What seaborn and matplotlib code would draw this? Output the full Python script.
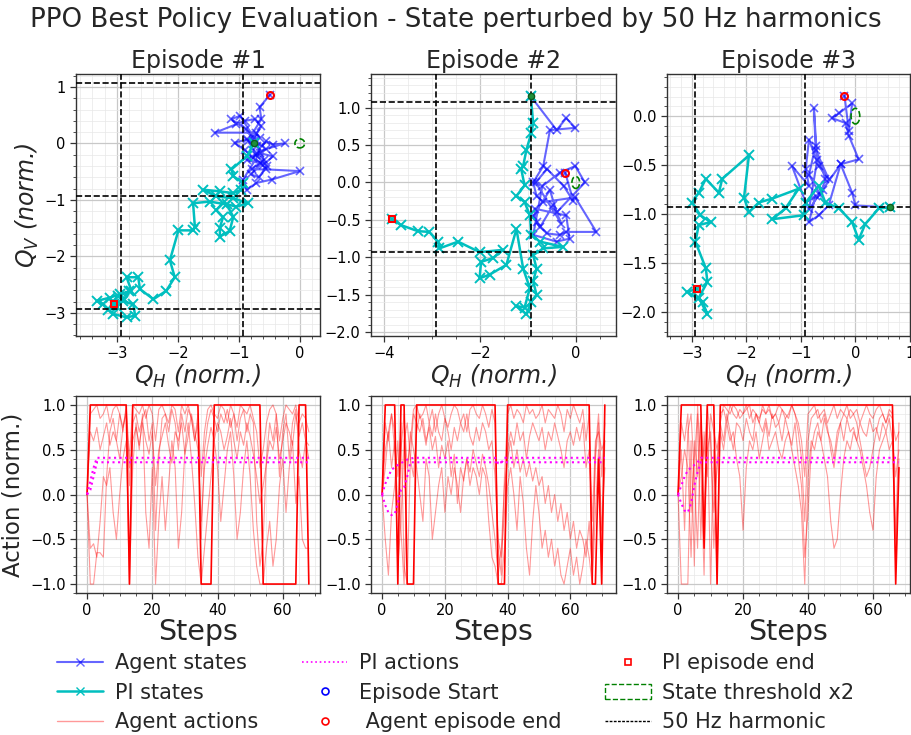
import matplotlib
matplotlib.use("Agg")
import numpy as np
import pandas as pd
import seaborn as sns
import matplotlib.pyplot as plt
from matplotlib.lines import Line2D
from matplotlib.patches import Patch, Circle

# ---------------- data ----------------
title = "PPO Best Policy Evaluation - State perturbed by 50 Hz harmonics"
episode_titles = ["Episode #1", "Episode #2", "Episode #3"]
harmonics = [-2.93, -0.93, 1.07]
threshold_radius = 0.08

ep1_agent_qh = [-0.75, -0.62, -0.55, -0.44, -0.25, -0.55, -0.70, -0.87, -0.66, -0.79,
                -0.55, 0.00, -0.46, -0.71, -0.87, -0.93, -0.66, -0.44, -0.60, -0.77,
                -0.90, -1.07, -0.87, -0.66, -0.72, -1.39, -1.04, -0.90, -0.74, -0.63,
                -0.75, -0.98, -1.12, -0.88, -0.70, -0.58, -0.80, -0.67, -0.54, -0.72,
                -0.85, -0.63, -0.66, -0.49]
ep1_agent_qv = [0.00, -0.05, 0.04, -0.02, 0.00, -0.10, -0.17, -0.29, -0.35, -0.46,
                -0.46, -0.49, -0.64, -0.70, -0.82, -0.64, -0.17, -0.23, -0.38, -0.25,
                -0.12, 0.01, 0.07, 0.10, 0.19, 0.19, 0.34, 0.40, 0.43, 0.30,
                0.10, 0.49, 0.43, 0.25, -0.05, -0.30, -0.55, -0.60, -0.40, -0.20,
                0.05, 0.43, 0.64, 0.86]
ep1_pi_qh = [-0.75, -0.87, -1.12, -1.09, -0.93, -0.96, -1.09, -1.31, -1.58, -1.37,
             -1.09, -0.85, -1.04, -1.26, -1.37, -1.26, -1.31, -1.31, -1.15, -1.09,
             -1.20, -1.48, -1.75, -1.72, -1.75, -1.99, -2.13, -2.05, -2.19, -2.40,
             -2.62, -2.65, -2.84, -2.76, -2.95, -3.11, -3.33, -3.22, -3.06, -2.84,
             -2.70, -2.73, -2.90, -2.80, -2.98, -3.15, -3.00, -2.88, -3.05]
ep1_pi_qv = [0.00, -0.23, -0.46, -0.58, -0.70, -0.82, -0.88, -0.85, -0.82, -0.94,
             -0.97, -1.06, -1.12, -1.06, -1.18, -1.31, -1.49, -1.65, -1.55, -1.30,
             -1.08, -1.03, -1.06, -1.48, -1.54, -1.54, -2.07, -2.37, -2.61, -2.76,
             -2.58, -2.37, -2.37, -2.61, -2.67, -2.73, -2.79, -2.85, -3.02, -3.08,
             -3.05, -2.85, -2.79, -2.62, -2.70, -2.95, -2.90, -2.75, -2.85]

ep2_agent_qh = [-0.94, -0.40, -0.20, -0.01, -0.54, -0.68, -0.89, -0.82, -0.68, -0.01,
                0.43, -0.20, -0.34, -0.61, -0.82, -0.86, -0.20, -0.13, -0.40, -0.89,
                -0.70, -0.34, -0.01, 0.19, -0.40, -0.54, -0.89, -0.75, -0.47, -0.30,
                -0.84, -0.60, -0.25, -0.05, -0.22]
ep2_agent_qv = [1.15, 0.70, 0.86, 0.73, 0.70, 0.22, 0.00, -0.18, -0.26, -0.20,
                -0.66, -0.66, -0.70, -0.68, -0.53, -0.35, -0.44, -0.75, -0.79, -0.70,
                -0.05, 0.13, 0.22, 0.00, -0.40, -0.10, -0.45, -0.60, -0.30, -0.55,
                0.00, 0.18, -0.05, -0.25, 0.13]
ep2_pi_qh = [-0.94, -0.89, -0.93, -1.03, -1.10, -1.14, -1.07, -1.24, -1.07, -0.96,
             -0.93, -0.75, -0.27, -0.68, -0.89, -0.82, -0.89, -0.82, -0.93, -1.03,
             -1.24, -1.07, -0.96, -1.10, -1.24, -1.45, -1.80, -2.01, -1.98, -1.73,
             -1.52, -2.01, -2.46, -2.85, -2.88, -3.06, -3.30, -3.65, -3.85]
ep2_pi_qv = [1.15, 0.79, 0.66, 0.44, 0.22, 0.18, -0.04, -0.18, -0.26, -0.44,
             -0.70, -0.79, -0.86, -0.88, -0.97, -1.15, -1.32, -1.50, -1.59, -1.76,
             -1.65, -1.67, -1.41, -1.15, -0.62, -1.10, -1.23, -1.28, -1.06, -1.01,
             -0.90, -0.93, -0.79, -0.88, -0.79, -0.66, -0.65, -0.57, -0.49]

ep3_agent_qh = [0.64, 0.00, -0.06, -0.27, -0.49, -0.67, -0.85, -0.73, -0.91, -1.16,
                -0.85, -0.91, -0.85, -0.67, -0.49, -0.73, -0.55, -0.64, -0.85, -0.73,
                -0.76, -0.70, -0.85, -0.60, -0.27, 0.06, -0.12, -0.18, -0.43, -0.30,
                -0.06, -0.12, -0.20]
ep3_agent_qv = [-0.93, -0.91, -0.78, -0.49, -0.91, -1.01, -1.08, -0.81, -0.88, -0.51,
                -0.71, -0.54, -0.24, -0.51, -0.64, -0.34, -0.64, -0.80, -0.60, -0.30,
                0.08, -0.45, -0.95, -0.75, -0.49, -0.44, -0.20, -0.07, -0.02, 0.03,
                0.13, -0.15, 0.21]
ep3_pi_qh = [0.64, 0.43, 0.18, 0.06, -0.06, -0.30, -0.55, -0.67, -0.91, -0.95,
             -1.52, -1.28, -1.04, -1.52, -1.77, -1.95, -2.04, -1.95, -2.44, -2.50,
             -2.74, -2.87, -2.99, -2.84, -2.65, -2.87, -2.93, -2.74, -2.71, -2.87,
             -2.71, -2.80, -3.08, -2.91]
ep3_pi_qv = [-0.93, -0.94, -1.10, -1.26, -1.08, -0.94, -0.88, -0.71, -0.88, -1.01,
             -1.05, -0.94, -0.74, -0.84, -0.88, -0.98, -0.83, -0.40, -0.64, -0.78,
             -0.64, -0.78, -0.88, -1.01, -1.08, -1.11, -1.28, -1.55, -1.69, -1.85,
             -2.02, -1.89, -1.79, -1.76]

# agent actions (one dominant series + fainter series) per episode
ep1_act_main = [0, 1, 1, 1, 1, 1, 1, 1, 1, 1,
                1, 1, 1, -1, 1, 1, 1, 1, 1, 1,
                1, 1, 1, 1, 1, 1, 1, 1, 1, 1,
                1, 1, 1, 1, 1, -1, -1, -1, -1, 1,
                1, 1, 1, 1, 1, 1, 1, 1, 1, 1,
                1, 1, 1, 1, -1, -1, -1, -1, -1, -1,
                -1, -1, -1, -1, -1, 1, 1, 1, -1]
ep1_act_a = [0, 0.9, 0.95, 1, 0.85, 0.9, 1, 0.8, 0.95, 1,
             0.9, 0.7, 1, 0.4, 1, 0.95, 0.9, 1, 0.85, 1,
             0.9, 0.6, 0.95, 1, 0.9, 0.8, 1, 0.95, 0.7, 1,
             0.9, 1, 0.85, 0.6, 0.9, 0.2, 0.7, 0.95, 1, 0.9,
             0.85, 1, 0.95, 0.8, 1, 0.9, 0.75, 1, 0.95, 0.9,
             1, 0.85, 0.7, 0.3, 0.5, 0.8, 0.95, 1, 0.9, 0.6,
             0.85, 1, 0.95, 0.9, 1, 0.8, 0.9, 0.85, 0.7]
ep1_act_b = [0, 0.7, 0.6, 0.75, 0.5, 0.65, 0.8, 0.55, 0.7, 0.6,
             0.4, 0.75, 0.9, 0.3, 0.6, 0.75, 0.55, 0.8, 0.6, 0.45,
             0.7, 0.1, 0.5, 0.65, 0.8, 0.55, 0.35, 0.7, 0.6, 0.8,
             0.45, 0.65, 0.9, 0.7, 0.5, -0.3, 0.3, 0.55, 0.75, 0.6,
             0.8, 0.7, 0.5, 0.65, 0.85, 0.6, 0.4, 0.7, 0.55, 0.8,
             0.65, 0.45, 0.2, -0.1, 0.1, 0.35, 0.6, 0.5, 0.75, 0.4,
             0.6, 0.8, 0.7, 0.55, 0.9, 0.65, 0.8, 0.6, 0.55]
ep1_act_c = [0, -0.6, -0.55, -0.7, -0.3, 0.2, 0.1, 0.3, -0.2, -0.5,
             0.0, 0.4, 0.6, -1.0, 0.3, 0.8, 0.5, 0.9, -0.2, -0.6,
             0.3, -1.0, -0.3, 0.2, -0.4, 0.1, 0.6, 0.3, -0.6, -0.2,
             0.5, 0.8, 0.4, -0.1, -0.7, -1.0, -0.6, -0.2, 0.2, 0.6,
             0.3, -0.3, 0.1, 0.5, 0.7, 0.2, -0.5, -0.2, 0.3, 0.6,
             0.2, -0.4, -0.8, -1.0, -1.0, -0.6, -0.3, -0.8, -0.5, 0.1,
             0.4, -0.2, 0.3, 0.6, -0.1, 0.2, -0.5, -0.6, -0.6]
ep1_act_d = [0, -1, -1, -0.65, -0.65, -0.7, 0.2, 0.7, 0.85, 0.6,
             0.9, 0.75, 0.95, 0.1, 0.8, 0.9, 0.7, 0.85, 0.95, 0.6,
             0.8, -0.4, 0.4, 0.85, 0.9, 0.7, 0.95, 0.8, 0.5, 0.9,
             0.7, 0.95, 0.85, 0.6, 0.8, -0.5, 0.5, 0.8, 0.95, 0.85,
             0.7, 0.9, 0.8, 0.95, 0.75, 0.9, 0.6, 0.85, 0.95, 0.7,
             0.9, 0.8, -0.3, -0.8, -0.5, 0.4, 0.8, 0.6, 0.9, 0.2,
             0.7, 0.9, 0.4, 0.8, 0.95, 0.5, 0.3, 0.6, 0.4]

ep2_act_main = [0, 1, 1, 1, 1, -1, 1, 1, -1, -1,
                -1, 1, 1, 1, 1, 1, 1, 1, 1, 1,
                1, 1, 1, 1, 1, 1, 1, 1, 1, 1,
                1, 1, 1, 1, 1, 1, 1, -1, -1, -1,
                1, 1, 1, 1, 1, 1, 1, 1, 1, 1,
                1, 1, 1, 1, 1, 1, 1, 1, 1, 1,
                1, 1, 1, 1, 1, 1, 1, -1, -1, 0.4,
                -1, 1]
ep2_act_a = [0, 0.8, 0.6, 0.9, 0.7, -0.2, 0.5, 0.9, 0.3, 0.6,
             0.95, 1, 0.85, 0.9, 1, 0.8, 0.95, 0.7, 0.9, 1,
             0.85, 0.75, 0.9, 1, 0.95, 0.8, 0.9, 0.7, 0.95, 1,
             0.9, 0.85, 1, 0.9, 0.75, 0.95, 0.8, -0.6, -0.9, 0.2,
             0.9, 1, 0.85, 0.95, 0.9, 0.8, 1, 0.9, 0.95, 0.85,
             0.9, 1, 0.8, 0.95, 0.9, 0.85, 1, 0.9, 0.7, 0.95,
             0.85, 1, 0.9, 0.8, 0.95, 0.6, 0.9, -0.8, 0.5, 0.9,
             0.2, 0.8]
ep2_act_b = [0, 0.5, 0.7, 0.3, 0.6, -0.8, -0.3, 0.6, 0.8, 0.4,
             0.2, 0.7, 0.9, 0.75, 0.55, 0.8, 0.65, 0.9, 0.7, 0.6,
             0.85, 0.7, 0.5, 0.75, 0.6, 0.8, 0.7, 0.9, 0.65, 0.55,
             0.75, 0.6, 0.8, 0.7, 0.5, 0.6, 0.2, -0.5, -0.7, -0.2,
             0.5, 0.7, 0.55, 0.8, 0.6, 0.7, 0.4, 0.65, 0.8, 0.7,
             0.6, 0.75, 0.5, 0.7, 0.6, 0.8, 0.65, 0.5, 0.3, 0.6,
             0.7, 0.55, 0.75, 0.6, 0.8, 0.3, 0.5, -0.3, 0.6, 0.7,
             0.5, 0.6]
ep2_act_c = [0, -0.5, -0.9, -0.2, 0.1, 0.6, -0.4, -1.0, 0.2, 0.7,
             0.5, 0.3, 0.0, -0.3, 0.4, 0.2, -0.5, -0.2, 0.1, 0.3,
             -0.2, 0.2, 0.0, 0.3, 0.1, -0.2, 0.2, 0.4, 0.1, 0.3,
             0.2, 0.0, 0.3, 0.2, -0.3, -0.7, -0.8, -1.0, -1.0, -0.6,
             0.1, 0.3, 0.0, -0.4, 0.2, -0.1, -0.6, -0.9, -0.3, 0.1,
             -0.2, -0.6, -0.4, -0.7, -0.5, -0.8, -0.6, -0.9, -1.0, -0.8,
             -0.6, -0.9, -0.7, -1.0, -0.8, -0.5, -0.7, -1.0, -0.2, 0.5,
             -0.4, 0.3]
ep2_act_d = [0, 0.3, 0.7, 0.9, 0.5, 0.2, 0.8, -0.8, -1.0, 0.4,
             0.9, 0.8, 0.7, 0.85, 0.6, 0.75, 0.5, 0.65, 0.3, 0.55,
             0.4, 0.6, 0.2, 0.45, -0.1, 0.3, 0.15, 0.4, 0.25, 0.5,
             0.35, 0.2, 0.45, 0.3, 0.1, -0.2, -0.5, -0.9, -0.6, 0.1,
             0.4, 0.6, 0.3, 0.5, 0.25, 0.4, 0.2, 0.35, 0.15, 0.3,
             0.1, 0.2, -0.1, 0.1, -0.2, 0.0, -0.3, -0.1, -0.4, -0.2,
             -0.5, -0.3, -0.6, -0.4, -0.5, -0.7, -0.3, -0.9, 0.4, 0.8,
             -0.6, 0.6]

ep3_act_main = [0, 1, 1, 1, 1, 1, 1, 1, -0.6, 1,
                1, 1, -1, 1, 1, 1, 1, 1, 1, 1,
                1, 1, 1, 1, 1, 1, 1, 1, 1, 1,
                1, 1, 1, 1, 1, 1, 1, 1, 1, 1,
                1, 1, 1, 1, 1, 1, 1, 1, 1, 1,
                1, 1, 1, 1, 1, 1, 1, 1, 1, 1,
                1, 1, 1, 1, 1, 1, 1, -1, 0.3]
ep3_act_a = [0, -1, -1, -1, 0.6, -0.8, 1, 0.3, -0.9, 0.8,
             -1, 0.5, -0.9, 0.9, 0.95, 0.8, 1, 0.9, 0.85, 0.95,
             0.9, 1, 0.85, 0.95, 0.9, 0.8, 1, 0.9, 0.95, 0.85,
             0.9, 1, 0.95, 0.85, 0.9, 1, 0.9, 0.8, 0.6, 0.2,
             0.9, 0.95, 1, 0.85, 0.9, 0.95, 0.8, 0.9, 1, 0.85,
             0.95, 0.9, 1, 0.85, 0.9, 0.95, 0.8, 0.9, 1, 0.9,
             0.85, 0.95, 1, 0.9, 0.8, 0.95, 0.9, -0.5, 0.8]
ep3_act_b = [0, 0.5, -0.4, 0.7, 0.9, 0.2, -0.6, 0.8, 0.4, 1,
             0.6, -0.2, 0.3, 0.7, 0.5, 0.8, 0.6, 0.7, 0.4, 0.2,
             -0.4, 0.3, 0.6, 0.5, 0.7, 0.4, 0.6, 0.8, 0.5, 0.6,
             0.7, 0.5, 0.4, 0.6, 0.7, 0.5, 0.3, 0.1, -0.2, -1.0,
             0.2, 0.6, 0.5, 0.7, 0.6, 0.4, 0.2, -0.3, -0.6, -0.5,
             0.0, 0.4, 0.6, 0.5, 0.7, 0.6, 0.5, 0.3, 0.1, -0.2,
             -0.4, 0.2, 0.5, 0.6, 0.7, 0.5, 0.6, 0.2, 0.5]
ep3_act_c = [0, 0.8, 0.6, 0.9, -0.2, 0.4, 0.9, -0.5, 0.7, 0.2,
             0.9, 0.7, 0.5, 0.8, 0.6, 0.9, 0.7, 0.5, 0.8, 0.75,
             0.6, 0.85, 0.7, 0.6, 0.9, 0.8, 0.7, 0.85, 0.65, 0.9,
             0.75, 0.8, 0.6, 0.85, 0.7, 0.55, 0.8, 0.4, 0.1, -0.7,
             -0.2, 0.5, 0.7, 0.8, 0.6, 0.85, 0.7, 0.6, 0.4, 0.7,
             0.8, 0.6, 0.85, 0.7, 0.75, 0.6, 0.8, 0.7, 0.65, 0.85,
             0.7, 0.75, 0.6, 0.8, 0.7, 0.85, 0.6, -0.8, 0.4]
ep3_act_d = [0, 0.2, 0.5, 0.3, -0.7, 0.6, 0.2, 0.9, -0.3, 0.5,
             0.7, -0.6, 0.4, 0.8, 1.0, 0.95, 0.9, 1, 0.95, 0.85,
             0.9, 0.95, 1, 0.8, 0.9, 0.85, 0.95, 0.9, 1, 0.85,
             0.9, 0.8, 0.95, 0.9, 0.85, 1, 0.9, 0.7, 0.4, -0.3,
             0.6, 0.85, 0.9, 0.95, 0.8, 0.9, 0.75, 0.5, 0.3, 0.6,
             0.8, 0.9, 0.85, 0.95, 0.9, 0.8, 0.6, 0.4, 0.2, 0.3,
             0.5, 0.7, 0.85, 0.9, 0.8, 0.9, 0.85, 0.6, 0.7]

# PI controller actions (two channels) per episode
ep1_pi_a = [0.0, 0.15, 0.30, 0.41, 0.41, 0.41, 0.41, 0.41, 0.41, 0.41,
            0.41, 0.41, 0.41, 0.41, 0.41, 0.41, 0.41, 0.41, 0.41, 0.41,
            0.41, 0.41, 0.41, 0.41, 0.41, 0.41, 0.41, 0.41, 0.41, 0.41,
            0.41, 0.41, 0.41, 0.41, 0.41, 0.41, 0.41, 0.41, 0.41, 0.41,
            0.41, 0.41, 0.41, 0.41, 0.41, 0.41, 0.41, 0.41, 0.41, 0.41,
            0.41, 0.41, 0.41, 0.41, 0.41, 0.41, 0.41, 0.41, 0.41, 0.41,
            0.41, 0.41, 0.41, 0.41, 0.41, 0.41, 0.41, 0.41, 0.41]
ep1_pi_b = [0.0, 0.05, 0.20, 0.36, 0.36, 0.36, 0.36, 0.36, 0.36, 0.36,
            0.36, 0.36, 0.36, 0.36, 0.36, 0.36, 0.36, 0.36, 0.36, 0.36,
            0.36, 0.36, 0.36, 0.36, 0.36, 0.36, 0.36, 0.36, 0.36, 0.36,
            0.36, 0.36, 0.36, 0.36, 0.36, 0.36, 0.36, 0.36, 0.36, 0.36,
            0.36, 0.36, 0.36, 0.36, 0.36, 0.36, 0.36, 0.36, 0.36, 0.36,
            0.36, 0.36, 0.36, 0.36, 0.36, 0.36, 0.36, 0.36, 0.36, 0.36,
            0.36, 0.36, 0.36, 0.36, 0.36, 0.36, 0.36, 0.36, 0.36]
ep2_pi_a = [0.0, 0.12, 0.20, 0.28, 0.30, 0.33, 0.35, 0.37, 0.39, 0.40,
            0.41, 0.41, 0.41, 0.41, 0.41, 0.41, 0.41, 0.41, 0.41, 0.41,
            0.41, 0.41, 0.41, 0.41, 0.41, 0.41, 0.41, 0.41, 0.41, 0.41,
            0.41, 0.41, 0.41, 0.41, 0.41, 0.41, 0.41, 0.35, 0.35, 0.41,
            0.41, 0.41, 0.41, 0.41, 0.41, 0.41, 0.41, 0.41, 0.41, 0.41,
            0.41, 0.41, 0.41, 0.41, 0.41, 0.41, 0.41, 0.41, 0.41, 0.41,
            0.41, 0.41, 0.41, 0.41, 0.41, 0.41, 0.41, 0.41, 0.41, 0.41,
            0.41, 0.41]
ep2_pi_b = [0.0, -0.12, -0.20, -0.23, -0.22, -0.10, 0.05, 0.08, 0.20, 0.36,
            0.36, 0.36, 0.36, 0.36, 0.36, 0.36, 0.36, 0.36, 0.36, 0.36,
            0.36, 0.36, 0.36, 0.36, 0.36, 0.36, 0.36, 0.36, 0.36, 0.36,
            0.36, 0.36, 0.36, 0.36, 0.36, 0.36, 0.36, 0.36, 0.36, 0.36,
            0.36, 0.36, 0.36, 0.36, 0.36, 0.36, 0.36, 0.36, 0.36, 0.36,
            0.36, 0.36, 0.36, 0.36, 0.36, 0.36, 0.36, 0.36, 0.36, 0.36,
            0.36, 0.36, 0.36, 0.36, 0.36, 0.36, 0.36, 0.36, 0.36, 0.36,
            0.36, 0.36]
ep3_pi_a = [0.0, 0.10, 0.20, 0.27, 0.30, 0.33, 0.36, 0.41, 0.41, 0.41,
            0.41, 0.41, 0.41, 0.41, 0.41, 0.41, 0.41, 0.41, 0.41, 0.41,
            0.41, 0.41, 0.41, 0.41, 0.41, 0.41, 0.41, 0.41, 0.41, 0.41,
            0.41, 0.41, 0.41, 0.41, 0.41, 0.41, 0.41, 0.41, 0.41, 0.41,
            0.41, 0.41, 0.41, 0.41, 0.41, 0.41, 0.41, 0.41, 0.41, 0.41,
            0.41, 0.41, 0.41, 0.41, 0.41, 0.41, 0.41, 0.41, 0.41, 0.41,
            0.41, 0.41, 0.41, 0.41, 0.41, 0.41, 0.41, 0.41, 0.41]
ep3_pi_b = [0.0, -0.10, -0.18, -0.20, -0.10, 0.10, 0.25, 0.36, 0.36, 0.36,
            0.36, 0.36, 0.36, 0.36, 0.36, 0.36, 0.36, 0.36, 0.36, 0.36,
            0.36, 0.36, 0.36, 0.36, 0.36, 0.36, 0.36, 0.36, 0.36, 0.36,
            0.36, 0.36, 0.36, 0.36, 0.36, 0.36, 0.36, 0.36, 0.36, 0.36,
            0.36, 0.36, 0.36, 0.36, 0.36, 0.36, 0.36, 0.36, 0.36, 0.36,
            0.36, 0.36, 0.36, 0.36, 0.36, 0.36, 0.36, 0.36, 0.36, 0.36,
            0.36, 0.36, 0.36, 0.36, 0.36, 0.36, 0.36, 0.36, 0.36]

episodes = [
    dict(agent=(ep1_agent_qh, ep1_agent_qv), pi=(ep1_pi_qh, ep1_pi_qv),
         act_main=ep1_act_main, act_thin=[ep1_act_a, ep1_act_b, ep1_act_c, ep1_act_d],
         pi_act=[ep1_pi_a, ep1_pi_b]),
    dict(agent=(ep2_agent_qh, ep2_agent_qv), pi=(ep2_pi_qh, ep2_pi_qv),
         act_main=ep2_act_main, act_thin=[ep2_act_a, ep2_act_b, ep2_act_c, ep2_act_d],
         pi_act=[ep2_pi_a, ep2_pi_b]),
    dict(agent=(ep3_agent_qh, ep3_agent_qv), pi=(ep3_pi_qh, ep3_pi_qv),
         act_main=ep3_act_main, act_thin=[ep3_act_a, ep3_act_b, ep3_act_c, ep3_act_d],
         pi_act=[ep3_pi_a, ep3_pi_b]),
]

# ---------------- layout / style ----------------
top_xlims = [(-3.67, 0.33), (-4.28, 0.84), (-3.45, 1.0)]
top_ylims = [(-3.41, 1.23), (-2.05, 1.45), (-2.24, 0.43)]
col_lefts = [0.0833, 0.4068, 0.7314]
col_widths = [0.2675, 0.2686, 0.2664]

AGENT_C = '#0000ff'
PI_C = '#00bfbf'
ACT_C = '#ff0000'
PIACT_C = '#ff00ff'
START_COLOR = '#1f8f3a'

sns.set_theme(style="ticks")
plt.rcParams['font.family'] = ['DejaVu Sans']
plt.rcParams['mathtext.fontset'] = 'dejavusans'
plt.rcParams['axes.edgecolor'] = '#333333'
plt.rcParams['axes.linewidth'] = 1.0
plt.rcParams['xtick.color'] = '#333333'
plt.rcParams['ytick.color'] = '#333333'
plt.rcParams['xtick.labelcolor'] = 'black'
plt.rcParams['ytick.labelcolor'] = 'black'
plt.rcParams['axes.unicode_minus'] = True

fig = plt.figure(figsize=(9.12, 7.35), dpi=100)
fig.suptitle(title, fontsize=18.8, y=0.99)


def style_grid(ax):
    ax.minorticks_on()
    ax.grid(True, which='major', color='#c8c8c8', lw=0.9)
    ax.grid(True, which='minor', color='#e8e8e8', lw=0.5)
    ax.set_axisbelow(True)
    ax.tick_params(which='major', length=4, width=0.9, labelsize=10.5)
    ax.tick_params(which='minor', length=2, width=0.6)


for i, ep in enumerate(episodes):
    ax = fig.add_axes([col_lefts[i], 0.5429, col_widths[i], 0.3565])
    style_grid(ax)
    aq_h, aq_v = ep['agent']
    pq_h, pq_v = ep['pi']
    sns.lineplot(x=aq_h, y=aq_v, sort=False, estimator=None, ax=ax, color=AGENT_C,
                 alpha=0.6, lw=1.5, marker='x', markersize=6, markeredgewidth=1.2,
                 markeredgecolor=AGENT_C)
    sns.lineplot(x=pq_h, y=pq_v, sort=False, estimator=None, ax=ax, color=PI_C,
                 lw=1.8, marker='x', markersize=7, markeredgewidth=1.4,
                 markeredgecolor=PI_C)
    ax.plot(aq_h[0], aq_v[0], 'o', ms=4.5, mfc=START_COLOR, mec='#0b5d1e', mew=1, zorder=5)
    ax.plot(aq_h[-1], aq_v[-1], 'o', ms=5, mfc='none', mec='red', mew=1.5, zorder=5)
    ax.plot(pq_h[-1], pq_v[-1], 's', ms=5, mfc='none', mec='red', mew=1.5, zorder=5)
    ax.add_patch(Circle((0, 0), threshold_radius, fill=False, ec='green', ls='--', lw=1.2, zorder=4))
    for h in harmonics:
        ax.axhline(h, color='black', ls='--', lw=1.2, zorder=4)
        ax.axvline(h, color='black', ls='--', lw=1.2, zorder=4)
    ax.set_xlim(*top_xlims[i])
    ax.set_ylim(*top_ylims[i])
    if i == 1:
        ax.set_yticks([-2.0, -1.5, -1.0, -0.5, 0.0, 0.5, 1.0])
    if i == 2:
        ax.set_yticks([-2.0, -1.5, -1.0, -0.5, 0.0])
        ax.set_xticks([-3, -2, -1, 0, 1])
    ax.set_title(episode_titles[i], fontsize=17, pad=4)
    ax.set_xlabel(r'$Q_H$ (norm.)', fontsize=17, style='italic', labelpad=1)
    if i == 0:
        ax.set_ylabel(r'$Q_V$ (norm.)', fontsize=17, style='italic', labelpad=2)
    else:
        ax.set_ylabel('')

    bx = fig.add_axes([col_lefts[i], 0.1932, col_widths[i], 0.268])
    style_grid(bx)
    for s in ep['act_thin']:
        sns.lineplot(x=np.arange(len(s)), y=s, ax=bx, color=ACT_C, alpha=0.4, lw=0.8,
                     estimator=None)
    m = ep['act_main']
    sns.lineplot(x=np.arange(len(m)), y=m, ax=bx, color=ACT_C, lw=1.2, estimator=None)
    for s in ep['pi_act']:
        sns.lineplot(x=np.arange(len(s)), y=s, ax=bx, color=PIACT_C, lw=1.5,
                     ls=':', estimator=None)
    bx.set_ylim(-1.1, 1.1)
    bx.set_yticks([-1.0, -0.5, 0.0, 0.5, 1.0])
    bx.set_xticks([0, 20, 40, 60])
    bx.set_xlabel('Steps', fontsize=20.5, labelpad=0)
    if i == 0:
        bx.set_ylabel('Action (norm.)', fontsize=16.5, labelpad=4)
    else:
        bx.set_ylabel('')

handles = [
    Line2D([], [], color=AGENT_C, alpha=0.6, lw=1.5, marker='x', ms=6),
    Line2D([], [], color=PI_C, lw=1.8, marker='x', ms=6),
    Line2D([], [], color=ACT_C, alpha=0.4, lw=1.0),
    Line2D([], [], color=PIACT_C, lw=1.2, ls=':'),
    Line2D([], [], ls='none', marker='o', ms=5, mfc='none', mec='blue', mew=1.2),
    Line2D([], [], ls='none', marker='o', ms=5, mfc='none', mec='red', mew=1.2),
    Line2D([], [], ls='none', marker='s', ms=5, mfc='none', mec='red', mew=1.2),
    Patch(facecolor='none', edgecolor='green', ls='--', lw=1.0),
    Line2D([], [], color='black', lw=1.0, ls='--', dashes=(2, 1)),
]
labels = ['Agent states', 'PI states', 'Agent actions', 'PI actions', 'Episode Start',
          ' Agent episode end', 'PI episode end', 'State threshold x2', '50 Hz harmonic']
fig.legend(handles, labels, ncol=3, loc='lower center', bbox_to_anchor=(0.5, -0.022),
           frameon=False, fontsize=15, handlelength=2.2, handletextpad=0.55,
           columnspacing=2.1, labelspacing=0.47)

fig.savefig('out.png', dpi=100)
